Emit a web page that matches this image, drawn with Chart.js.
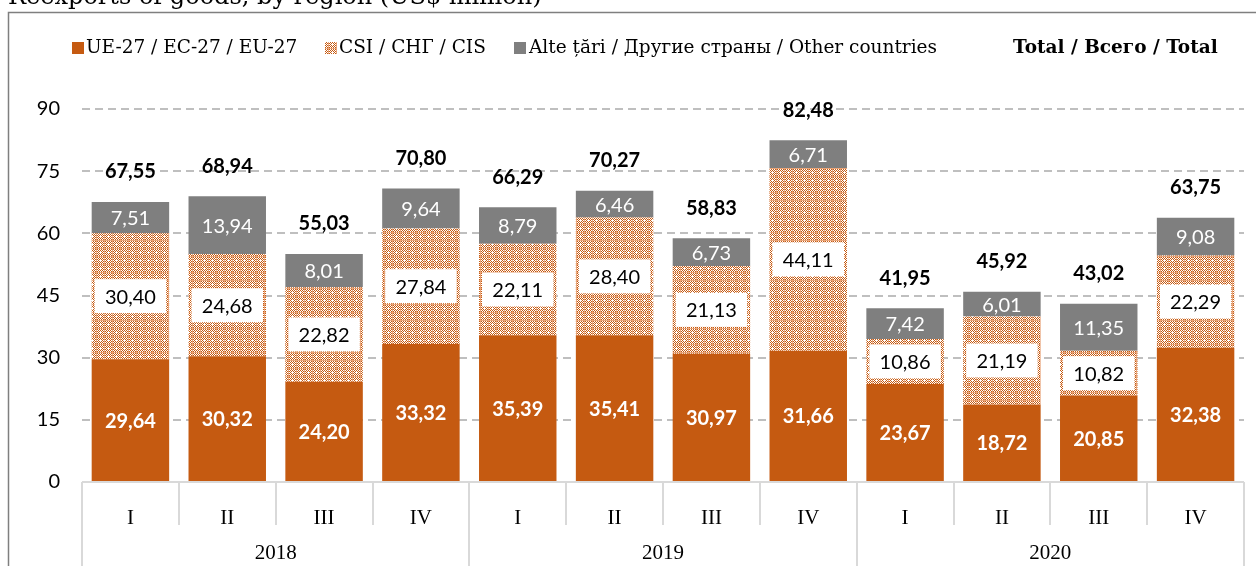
<!DOCTYPE html>
<html>
<head>
<meta charset="utf-8">
<script src="https://cdn.jsdelivr.net/npm/chart.js@4/dist/chart.umd.min.js"></script>
<style>
  html, body { margin: 0; padding: 0; background: #fff; }
  #wrap { position: relative; width: 1256px; height: 566px; }
</style>
</head>
<body>
<div id="wrap"><canvas id="chart" width="1256" height="566"></canvas></div>
<script>
// Datos
const quarters = ['I', 'II', 'III', 'IV', 'I', 'II', 'III', 'IV', 'I', 'II', 'III', 'IV'];
const years = ['2018', '2019', '2020'];
const euValues = [29.64, 30.32, 24.20, 33.32, 35.39, 35.41, 30.97, 31.66, 23.67, 18.72, 20.85, 32.38];
const cisValues = [30.40, 24.68, 22.82, 27.84, 22.11, 28.40, 21.13, 44.11, 10.86, 21.19, 10.82, 22.29];
const otherValues = [7.51, 13.94, 8.01, 9.64, 8.79, 6.46, 6.73, 6.71, 7.42, 6.01, 11.35, 9.08];
const totals = [67.55, 68.94, 55.03, 70.80, 66.29, 70.27, 58.83, 82.48, 41.95, 45.92, 43.02, 63.75];
const yTicks = [0, 15, 30, 45, 60, 75, 90];

const ORANGE = '#C55A11';
const GREY = '#7F7F7F';
const SANS = 'Lato, "Open Sans", sans-serif';
const SERIF = '"DejaVu Serif", serif';
const SERIF2 = '"Liberation Serif", serif';

// Patrón punteado para CSI (tablero 1px con claros blancos)
function makePattern(ctx) {
  const t = document.createElement('canvas');
  t.width = 8; t.height = 8;
  const g = t.getContext('2d');
  g.fillStyle = '#fff';
  g.fillRect(0, 0, 8, 8);
  for (let y = 0; y < 8; y++) {
    for (let x = 0; x < 8; x++) {
      if (y === 0 || x === 0) {
        g.fillStyle = '#E8A57A';
        g.fillRect(x, y, 1, 1);
      } else if ((x + y) % 2 === 0) {
        g.fillStyle = ORANGE;
        g.fillRect(x, y, 1, 1);
      }
    }
  }
  g.fillStyle = '#fff';
  g.fillRect(4, 3, 1, 3);
  g.fillRect(3, 4, 3, 1);
  return ctx.createPattern(t, 'repeat');
}

const canvas = document.getElementById('chart');
const ctx = canvas.getContext('2d');
const cisPattern = makePattern(ctx);

function fmt(v) {
  return v.toFixed(2).replace('.', ',');
}

// Plugin: etiquetas, totales, leyenda, marco y eje de años
const decorPlugin = {
  id: 'decor',
  afterDatasetsDraw(chart) {
    const c = chart.ctx;
    const yScale = chart.scales.y;
    c.save();
    c.textAlign = 'center';
    c.textBaseline = 'middle';
    chart.data.datasets.forEach((ds, di) => {
      const meta = chart.getDatasetMeta(di);
      meta.data.forEach((bar, i) => {
        const p = bar.getProps(['x', 'y', 'base', 'width'], true);
        const cy = (p.y + p.base) / 2;
        const txt = fmt(ds.data[i]);
        if (di === 0) {
          c.font = 'bold 20px ' + SANS;
          c.fillStyle = '#fff';
          c.fillText(txt, p.x, cy + 1);
        } else if (di === 1) {
          const bw = p.width - 6;
          const bh = 34;
          c.fillStyle = '#fff';
          c.fillRect(p.x - bw / 2, cy - bh / 2, bw, bh);
          c.font = '20px ' + SANS;
          c.fillStyle = '#000';
          c.fillText(txt, p.x, cy + 1);
        } else {
          c.font = '20px ' + SANS;
          c.fillStyle = '#fff';
          c.fillText(txt, p.x, cy + 1);
        }
      });
    });
    // Totales
    c.font = 'bold 20px ' + SANS;
    c.fillStyle = '#000';
    const meta0 = chart.getDatasetMeta(0);
    totals.forEach((t, i) => {
      const x = meta0.data[i].x;
      c.fillText(fmt(t), x, yScale.getPixelForValue(t) - 30);
    });
    c.restore();
  },
  afterDraw(chart) {
    const c = chart.ctx;
    const xScale = chart.scales.x;
    const area = chart.chartArea;
    c.save();
    // Eje horizontal y separadores
    c.strokeStyle = '#D9D9D9';
    c.lineWidth = 2;
    c.beginPath();
    c.moveTo(xScale.getPixelForValue(-0.5), area.bottom);
    c.lineTo(xScale.getPixelForValue(quarters.length - 0.5), area.bottom);
    for (let i = 0; i <= quarters.length; i++) {
      const x = Math.round(xScale.getPixelForValue(i - 0.5));
      c.moveTo(x, area.bottom);
      c.lineTo(x, i % 4 === 0 ? 566 : area.bottom + 43);
    }
    c.stroke();
    // Años
    c.fillStyle = '#000';
    c.font = '21px ' + SERIF2;
    c.textAlign = 'center';
    c.textBaseline = 'middle';
    years.forEach((yr, k) => {
      c.fillText(yr, xScale.getPixelForValue(k * 4 + 1.5), 553);
    });
    // Marco
    c.strokeStyle = GREY;
    c.lineWidth = 1.5;
    c.beginPath();
    c.moveTo(1256, 12.5);
    c.lineTo(8.5, 12.5);
    c.lineTo(8.5, 566);
    c.stroke();
    // Título (cortado)
    c.textAlign = 'left';
    c.textBaseline = 'alphabetic';
    c.font = '24px ' + SERIF;
    c.fillText('Reexports of goods, by region (US$ million)', 8, 4);
    // Leyenda
    c.textBaseline = 'middle';
    c.font = '18.5px ' + SERIF;
    c.fillStyle = ORANGE;
    c.fillRect(72, 42, 12, 12);
    c.fillStyle = '#000';
    c.fillText('UE-27 / EC-27 / EU-27', 86, 48);
    c.fillStyle = cisPattern;
    c.fillRect(325, 42, 12, 12);
    c.fillStyle = '#000';
    c.fillText('CSI / СНГ / CIS', 339, 48);
    c.fillStyle = GREY;
    c.fillRect(514, 42, 12, 12);
    c.fillStyle = '#000';
    c.fillText('Alte țări / Другие страны / Other countries', 529, 48);
    c.font = 'bold 18.5px ' + SERIF;
    c.fillText('Total / Всего / Total', 1013, 48);
    c.restore();
  }
};

new Chart(ctx, {
  type: 'bar',
  data: {
    labels: quarters,
    datasets: [
      { label: 'UE-27 / EC-27 / EU-27', data: euValues, backgroundColor: ORANGE },
      { label: 'CSI / СНГ / CIS', data: cisValues, backgroundColor: cisPattern },
      { label: 'Alte țări / Другие страны / Other countries', data: otherValues, backgroundColor: GREY }
    ]
  },
  options: {
    responsive: false,
    animation: false,
    layout: { padding: { top: 109, left: 0, right: 12, bottom: 0 } },
    datasets: {
      bar: { barPercentage: 0.8, categoryPercentage: 1, borderWidth: 0 }
    },
    plugins: {
      legend: { display: false },
      tooltip: { enabled: false },
      title: { display: false }
    },
    scales: {
      x: {
        stacked: true,
        afterFit: function(scale) { scale.height = 84; },
        grid: { display: false },
        border: { display: false },
        ticks: {
          padding: 16,
          color: '#000',
          font: { family: SERIF2, size: 21 },
          maxRotation: 0,
          autoSkip: false
        }
      },
      y: {
        stacked: true,
        min: 0,
        max: 90,
        afterFit: function(scale) { scale.width = 82; },
        afterBuildTicks: function(scale) {
          scale.ticks = yTicks.map(v => ({ value: v }));
        },
        grid: { color: '#BFBFBF', lineWidth: 2, drawTicks: false },
        border: { display: false, dash: [8, 5] },
        ticks: {
          padding: 22,
          color: '#000',
          font: { family: SANS, size: 20 }
        }
      }
    }
  },
  plugins: [decorPlugin]
});
</script>
</body>
</html>
